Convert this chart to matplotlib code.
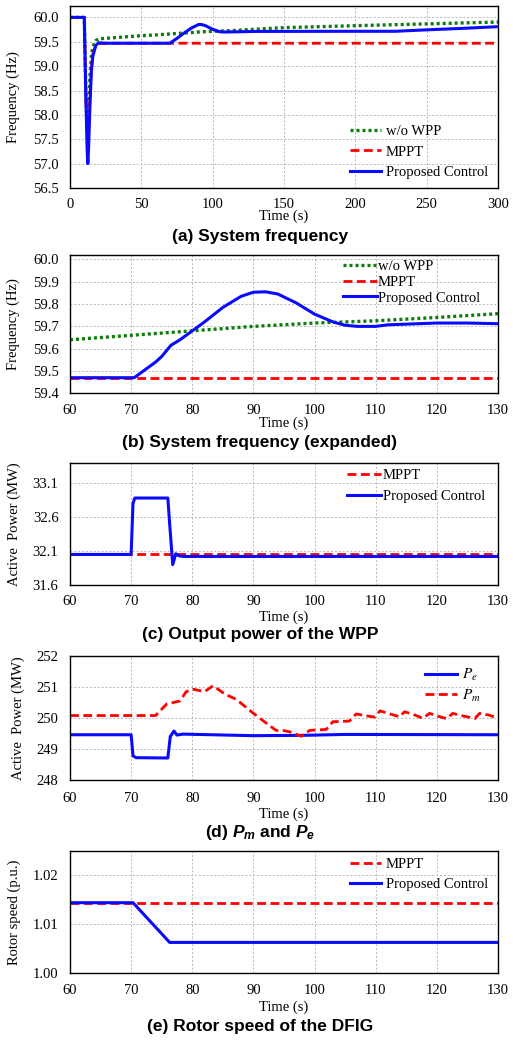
import numpy as np
import matplotlib
matplotlib.use('Agg')
from matplotlib import pyplot as plt
from matplotlib.font_manager import FontProperties

plt.rcParams['font.family'] = 'Liberation Serif'
plt.rcParams['mathtext.fontset'] = 'stix'
plt.rcParams['mathtext.it'] = 'Liberation Sans:italic:bold'
plt.rcParams['mathtext.rm'] = 'Liberation Sans:bold'
plt.rcParams['mathtext.bf'] = 'Liberation Sans:bold'

# (a) system frequency, 0-300 s
a_t_prop = [0, 10, 10.5, 11, 12, 12.5, 13, 14, 15, 16, 18, 20, 25, 70, 75, 80, 85, 90, 92, 95, 100,
            105, 108, 130, 200, 228, 250, 275, 300]
a_f_prop = [60, 60, 59.3, 58.5, 57.3, 57.0, 57.3, 58.2, 58.9, 59.2, 59.42, 59.48, 59.47, 59.47, 59.57,
            59.68, 59.78, 59.853, 59.855, 59.83, 59.755, 59.705, 59.70, 59.712, 59.715, 59.715, 59.745,
            59.775, 59.81]
a_t_mppt = [0, 10, 10.5, 11, 12, 12.3, 13, 14, 15, 16, 18, 20, 25, 300]
a_f_mppt = [60, 60, 59.3, 58.5, 57.5, 57.3, 57.6, 58.4, 58.95, 59.25, 59.42, 59.46, 59.47, 59.47]
a_t_wo = [0, 10, 10.5, 11, 12, 12.3, 13, 14, 15, 16, 18, 20, 50, 60, 70, 80, 90, 100, 110, 120, 130, 150,
          200, 250, 300]
a_f_wo = [60, 60, 59.3, 58.6, 57.8, 57.7, 58.1, 58.8, 59.2, 59.4, 59.52, 59.56, 59.625, 59.64, 59.66,
          59.68, 59.70, 59.715, 59.725, 59.74, 59.757, 59.79, 59.83, 59.867, 59.905]

# (b) system frequency expanded, 60-130 s
b_t_prop = [60, 70.5, 72, 74, 75, 76.5, 78, 80, 82, 85, 88, 90, 92, 94, 97, 100, 103, 105, 107, 110,
            112, 115, 120, 125, 130]
b_f_prop = [59.47, 59.47, 59.50, 59.54, 59.565, 59.615, 59.64, 59.68, 59.72, 59.785, 59.835, 59.853,
            59.855, 59.845, 59.805, 59.755, 59.72, 59.705, 59.70, 59.70, 59.707, 59.71, 59.715, 59.715,
            59.712]
b_t_mppt = [60, 130]
b_f_mppt = [59.47, 59.47]
b_t_wo = [60, 70, 80, 90, 100, 110, 120, 130]
b_f_wo = [59.64, 59.66, 59.68, 59.70, 59.715, 59.725, 59.74, 59.757]

# (c) output power of the WPP
c_t_prop = [60, 70, 70.3, 70.6, 76.0, 76.3, 76.8, 77.3, 77.8, 78.5, 130]
c_p_prop = [32.05, 32.05, 32.8, 32.88, 32.88, 32.5, 31.9, 32.06, 32.03, 32.02, 32.02]
c_t_mppt = [60, 130]
c_p_mppt = [32.055, 32.055]

# (d) Pm and Pe
d_t_pe = [60, 70, 70.3, 70.8, 76.0, 76.4, 77.0, 77.5, 78.5, 90, 98, 105, 130]
d_p_pe = [249.46, 249.46, 248.78, 248.72, 248.71, 249.4, 249.58, 249.45, 249.48, 249.43, 249.44,
          249.47, 249.46]
d_t_pm = [60, 74, 75.8, 78, 79, 80.1, 82, 83.4, 85, 86.1, 87.2, 90, 92, 93.7, 94.8, 96, 97.8, 99.2,
          101.9, 103, 105.7, 106.8, 108.5, 109.8, 110.7, 112, 113.9, 114.7, 116.1, 117.7, 118.8, 120.5,
          121.6, 122.6, 123.7, 125.4, 126.2, 127, 128.6, 130]
d_p_pm = [250.08, 250.08, 250.45, 250.55, 250.85, 250.93, 250.85, 251.04, 250.82, 250.7, 250.6, 250.15,
          249.85, 249.6, 249.6, 249.55, 249.41, 249.6, 249.63, 249.88, 249.9, 250.13, 250.07, 250.03,
          250.23, 250.15, 250.04, 250.2, 250.12, 249.99, 250.15, 250.04, 249.98, 250.15, 250.09, 250.02,
          249.98, 250.15, 250.09, 249.99]

# (e) rotor speed
e_t_prop = [60, 70.3, 76.3, 130]
e_w_prop = [1.0144, 1.0144, 1.0063, 1.0063]
e_t_mppt = [60, 130]
e_w_mppt = [1.0144, 1.0144]

BLUE = '#0a0aff'
RED = '#ff0000'
GREEN = '#0b7d0b'
W, H = 519, 1042
fig = plt.figure(figsize=(W / 100, H / 100), dpi=100)


def make_ax(top, bottom, ylab, ylab_x=20, xlab_y=29, xpad=7.5):
    left, right = 70, 498
    ax = fig.add_axes([left / W, 1 - bottom / H, (right - left) / W, (bottom - top) / H])
    ax.grid(True, color='#b8b8b8', linestyle=(0, (2, 2)), linewidth=0.7)
    ax.set_axisbelow(True)
    ax.tick_params(length=0, labelsize=10.5, pad=8.3)
    ax.tick_params(axis='x', pad=xpad)
    for s in ax.spines.values():
        s.set_linewidth(1.0)
    ax.set_xlabel('Time (s)', fontsize=10.5)
    ax.set_ylabel(ylab, fontsize=10.5)
    h = bottom - top
    ax.xaxis.set_label_coords(0.5, -(xlab_y - 7) / h)
    ax.yaxis.set_label_coords((ylab_x - 70) / 428, 0.5)
    ax.xaxis.label.set_va('top')
    return ax


def title(y, s, **kw):
    fig.text(260 / W, 1 - y / H, s, ha='center', va='center', fontsize=12.5,
             family='Liberation Sans', weight='bold', **kw)


def leg(ax, x, y, ls, hl, pad, prop=None):
    if prop is None:
        prop = {'size': 10.5}
    ax.legend(loc='upper left', bbox_to_anchor=(x, y), frameon=False, borderpad=0, borderaxespad=0,
              labelspacing=ls, handlelength=hl, handletextpad=pad, prop=prop)


dot = (0, (0.9, 0.9))
dash = (0, (3.2, 1.6))

# (a)
ax = make_ax(5.7, 188, 'Frequency (Hz)')
ax.plot(a_t_wo, a_f_wo, color=GREEN, linestyle=dot, lw=2.4, label='w/o WPP')
ax.plot(a_t_mppt, a_f_mppt, color=RED, linestyle=dash, lw=2.0, label='MPPT')
ax.plot(a_t_prop, a_f_prop, color=BLUE, lw=2.2, label='Proposed Control')
ax.set_xlim(0, 300)
ax.set_ylim(56.5, 60.24)
ax.set_xticks(np.arange(0, 301, 50))
ax.set_yticks(np.arange(56.5, 60.01, 0.5))
ax.yaxis.set_major_formatter('{x:.1f}')
leg(ax, (350 - 70) / 428, (188 - 125) / 182.3, 0.49, 2.1, 0.35)
title(237, '(a) System frequency')

# (b)
ax = make_ax(255, 393.3, 'Frequency (Hz)', xlab_y=30)
ax.plot(b_t_wo, b_f_wo, color=GREEN, linestyle=dot, lw=2.4, label='w/o WPP')
ax.plot(b_t_mppt, b_f_mppt, color=RED, linestyle=dash, lw=2.0, label='MPPT')
ax.plot(b_t_prop, b_f_prop, color=BLUE, lw=2.2, label='Proposed Control')
ax.set_xlim(60, 130)
ax.set_ylim(59.4, 60.02)
ax.set_xticks(np.arange(60, 131, 10))
ax.set_yticks(np.arange(59.4, 60.001, 0.1))
ax.yaxis.set_major_formatter('{x:.1f}')
leg(ax, (343 - 70) / 428, (393.3 - 260) / 138.3, 0.17, 2.3, 0.1)
title(443, '(b) System frequency (expanded)')

# (c)
ax = make_ax(462.7, 585, 'Active  Power (MW)', ylab_x=21, xlab_y=33)
ax.plot(c_t_mppt, c_p_mppt, color=RED, linestyle=dash, lw=2.0, label='MPPT')
ax.plot(c_t_prop, c_p_prop, color=BLUE, lw=2.2, label='Proposed Control')
ax.set_xlim(60, 130)
ax.set_ylim(31.6, 33.4)
ax.set_xticks(np.arange(60, 131, 10))
ax.set_yticks([31.6, 32.1, 32.6, 33.1])
ax.yaxis.set_major_formatter('{x:.1f}')
leg(ax, (347 - 70) / 428, (585 - 469) / 122.3, 0.5, 2.3, 0.15)
title(634, '(c) Output power of the WPP')

# (d)
ax = make_ax(656, 780, 'Active  Power (MW)', ylab_x=25, xlab_y=35, xpad=9.0)
ax.plot(d_t_pe, d_p_pe, color=BLUE, lw=2.2, label='$P_e$')
ax.plot(d_t_pm, d_p_pm, color=RED, linestyle=dash, lw=2.0, label='$P_m$')
ax.set_xlim(60, 130)
ax.set_ylim(248, 252)
ax.set_xticks(np.arange(60, 131, 10))
ax.set_yticks(np.arange(248, 252.1, 1))
leg(ax, (425 - 70) / 428, (780 - 667) / 124, 0.3, 2.1, 0.35,
    prop=FontProperties(family='Liberation Serif', size=11, math_fontfamily='stix'))
title(833, '(d) $P_m$ and $P_e$', math_fontfamily='custom')

# (e)
ax = make_ax(850.7, 973.3, 'Rotor speed (p.u.)', ylab_x=21, xlab_y=34)
ax.plot(e_t_mppt, e_w_mppt, color=RED, linestyle=dash, lw=2.0, label='MPPT')
ax.plot(e_t_prop, e_w_prop, color=BLUE, lw=2.2, label='Proposed Control')
ax.set_xlim(60, 130)
ax.set_ylim(1.0, 1.025)
ax.set_xticks(np.arange(60, 131, 10))
ax.set_yticks([1.00, 1.01, 1.02])
ax.yaxis.set_major_formatter('{x:.2f}')
leg(ax, (350 - 70) / 428, (973.3 - 858) / 122.6, 0.45, 2.1, 0.35)
title(1027, '(e) Rotor speed of the DFIG')

fig.savefig('out.png', dpi=100)
